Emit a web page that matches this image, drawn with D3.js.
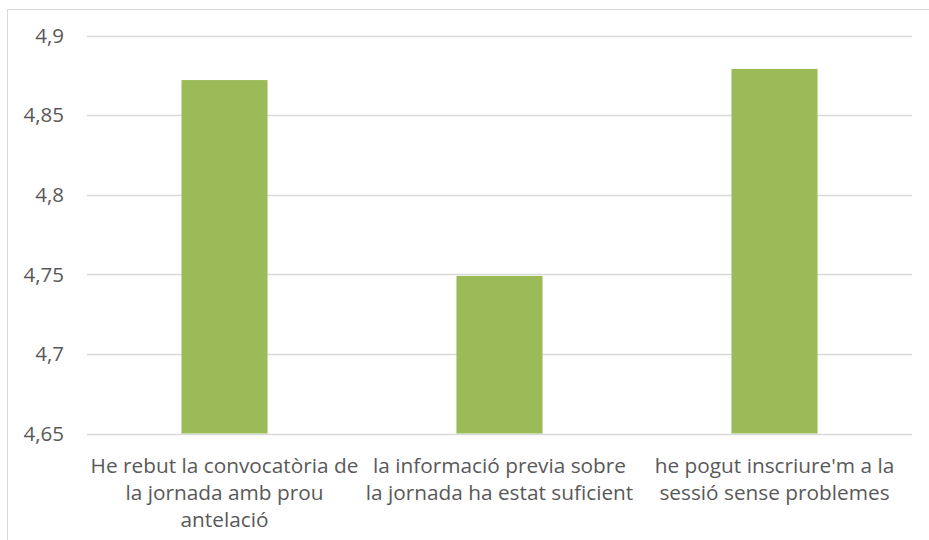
<!DOCTYPE html>
<html>
<head>
<meta charset="utf-8">
<script src="https://cdn.jsdelivr.net/npm/d3@7"></script>
<style>
  body { margin: 0; background: #fff; }
  text { font-family: "Open Sans", sans-serif; fill: #595959; }
</style>
</head>
<body>
<svg width="929" height="540"></svg>
<script>
const categories = [
    ["He rebut la convocatòria de", "la jornada amb prou", "antelació"],
    ["la informació previa sobre", "la jornada ha estat suficient"],
    ["he pogut inscriure'm a la", "sessió sense problemes"]
];
const values = [4.872, 4.749, 4.879];
const yTicks = [4.65, 4.7, 4.75, 4.8, 4.85, 4.9];

const svg = d3.select("svg");
const margin = {left: 87, right: 17, top: 35.5, bottom: 106.5};
const width = +svg.attr("width"), height = +svg.attr("height");

// chart border (only left and top visible inside the frame)
svg.append("rect")
    .attr("x", 7.5).attr("y", 9.5)
    .attr("width", 940).attr("height", 560)
    .attr("fill", "none").attr("stroke", "#d9d9d9");

const x = d3.scaleBand()
    .domain(d3.range(categories.length))
    .range([margin.left, width - margin.right])
    .paddingInner(0.687).paddingOuter(0.3435);

const y = d3.scaleLinear()
    .domain([4.65, 4.9])
    .range([height - margin.bottom, margin.top]);

const fmt = d => String(+d.toFixed(2)).replace(".", ",");

const g = svg.append("g");

// grid
g.append("g")
    .selectAll("line")
    .data(yTicks)
    .enter().append("line")
    .attr("x1", margin.left).attr("x2", width - margin.right)
    .attr("y1", d => Math.round(y(d)) + 0.5).attr("y2", d => Math.round(y(d)) + 0.5)
    .attr("stroke", "#d9d9d9").attr("stroke-width", 1.3);

// y labels
g.append("g")
    .selectAll("text")
    .data(yTicks)
    .enter().append("text")
    .attr("x", 64)
    .attr("y", d => y(d))
    .attr("dy", "0.36em")
    .attr("text-anchor", "end")
    .style("font-size", "20.5px")
    .text(fmt);

// bars
g.append("g")
    .selectAll("rect")
    .data(values)
    .enter().append("rect")
    .attr("x", (d, i) => x(i))
    .attr("width", x.bandwidth())
    .attr("y", d => y(d))
    .attr("height", d => y(4.65) - y(d))
    .attr("fill", "#9bbb59");

// category labels
const full = d3.scaleBand()
    .domain(d3.range(categories.length))
    .range([margin.left, width - margin.right]);

const lab = g.append("g")
    .selectAll("text")
    .data(categories)
    .enter().append("text")
    .attr("text-anchor", "middle")
    .style("font-size", "20.8px");

lab.selectAll("tspan")
    .data((d, i) => d.map(t => ({t: t, i: i})))
    .enter().append("tspan")
    .attr("x", d => full(d.i) + full.bandwidth() / 2)
    .attr("y", (d, j) => 473 + j * 27)
    .text(d => d.t);
</script>
</body>
</html>
